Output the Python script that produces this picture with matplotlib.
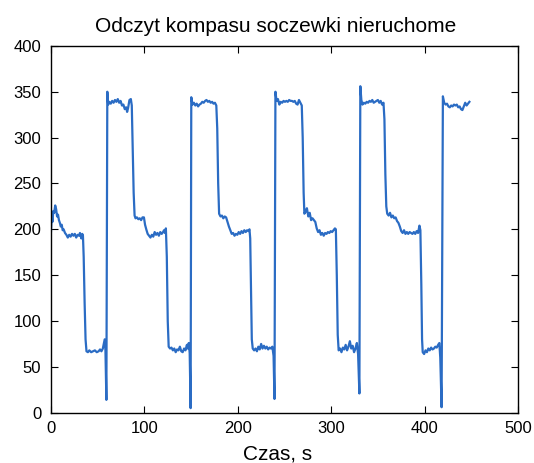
import matplotlib
matplotlib.use("Agg")
import matplotlib.pyplot as plt

# Compass heading readings (degrees) over time (s), lenses stationary
czas = [
    0, 0.8, 1.5, 2.5, 3.5, 4.5, 5.5, 6.5, 7.5, 8.5, 9.5, 10.5, 11.5, 12.5, 13.5, 15, 16.5, 18,
    19.5, 21, 22.5, 24, 25.5, 27, 28.5, 30, 31, 32.5, 33.5, 34.2, 35, 36, 37, 38,
    39.5, 41, 43, 45, 47, 49, 51, 52.5, 54, 55.5, 56.5, 57.5, 58.3, 59.3,
    60.3, 61.2, 62.5, 64, 65.5, 67, 68.5, 70, 71.5, 73, 74.5, 76, 77.5, 79, 80.5, 81.5, 82.5,
    84, 85.5, 86.5, 87.5, 88.5, 89.5,
    90.5, 92, 93.5, 95, 96.5, 98, 99.5, 100.7, 102, 103.5, 105, 106.5, 108, 109.5, 111,
    112.5, 114, 115.5, 117, 118.5, 120, 121, 122, 123, 124, 125, 126,
    127.5, 129, 130.5, 132, 133.5, 135, 136.5, 138, 139.5, 141, 142.5, 144, 145.5, 146.5,
    147.5, 148.5, 149.5,
    150.2, 151.5, 153, 154.5, 156, 157.5, 159, 160.5, 162, 163.5, 165, 166.5, 168, 169.5,
    171, 172.5, 174, 175.5, 177, 178, 179, 180,
    181.5, 183, 184.5, 186, 187.5, 189, 190.5, 192, 193.5, 195, 196.5, 198, 199.5, 201,
    202.5, 204, 205.5, 207, 208.5, 210, 211.5, 212.5, 213.3, 214.2, 215, 216,
    217.5, 219, 220.5, 222, 223.5, 225, 226.5, 228, 229.5, 231, 232.5, 234, 235.5, 237,
    238.3, 239.3,
    240.3, 241.5, 243, 244.5, 246, 247.5, 249, 250.5, 252, 253.5, 255, 256.5, 258, 259.5,
    261, 262.5, 264, 265.5, 267, 268.5, 269.5, 270.5, 271.3,
    272.5, 274, 275.5, 277, 278.5, 280, 281.5, 283, 284.5, 286, 287.5, 289, 290.5, 292,
    293.5, 295, 296.5, 298, 299.5, 301, 302.5, 304, 305, 306, 307, 308,
    309.5, 311, 312.5, 314, 315.5, 317, 318.5, 320, 321.5, 323, 324.5, 326, 327.5, 328.8,
    330.2,
    331.2, 332.3, 333.5, 335, 336.5, 338, 339.5, 341, 342.5, 344, 345.5, 347, 348.5, 350,
    351.5, 353, 354.5, 356, 357, 358, 359, 360,
    361.5, 363, 364.5, 366, 367.5, 369, 370.5, 372, 373.5, 375, 376.5, 378, 379.5, 381,
    382.5, 384, 385.5, 387, 388.5, 390, 391.5, 393, 394.5, 395.5, 396.5, 397.3, 398,
    399.5, 401, 402.5, 404, 405.5, 407, 408.5, 410, 411.5, 413, 414.5, 415.8, 416.8, 418.2,
    419.6, 421, 422.5, 424, 425.5, 427, 428.5, 430, 431.5, 433, 434.5, 436, 437.5, 439,
    440.5, 442, 443.5, 445, 446.5, 448,
]
odczyt = [
    198, 215, 208, 220, 218, 226, 222, 214, 216, 210, 207, 203, 205, 199, 200, 196, 194, 191,
    194, 192, 195, 193, 195, 191, 194, 193, 196, 190, 195, 193, 170, 120, 80, 67,
    66, 68, 66, 67, 68, 66, 67, 69, 67, 70, 75, 80, 68, 14,
    350, 336, 339, 337, 340, 338, 341, 339, 342, 338, 340, 335, 336, 331, 333, 328, 332,
    341, 342, 335, 290, 240, 215,
    212, 213, 211, 212, 210, 213, 213, 205, 200, 195, 193, 191, 194, 192, 197,
    194, 196, 193, 197, 195, 197, 199, 196, 201, 170, 100, 72,
    70, 71, 68, 70, 66, 69, 68, 72, 67, 66, 70, 68, 74, 70,
    76, 65, 5,
    344, 336, 338, 335, 337, 334, 336, 337, 339, 338, 340, 341, 339, 340,
    338, 339, 337, 338, 335, 310, 250, 217,
    214, 215, 212, 214, 213, 208, 203, 199, 195, 196, 193, 195, 194, 197,
    195, 198, 196, 199, 197, 199, 198, 200, 190, 130, 80, 70,
    68, 70, 67, 72, 69, 75, 70, 73, 70, 72, 69, 71, 70, 72,
    62, 15,
    350, 340, 342, 336, 339, 338, 340, 339, 340, 339, 341, 340, 340, 339,
    340, 337, 336, 341, 338, 335, 300, 240, 217,
    219, 223, 214, 218, 210, 212, 210, 208, 201, 197, 199, 194, 196, 193,
    196, 195, 197, 196, 198, 197, 199, 201, 200, 150, 85, 68,
    70, 66, 71, 69, 74, 68, 72, 78, 70, 73, 66, 70, 76, 64,
    21,
    356, 341, 336, 338, 337, 339, 338, 340, 339, 341, 338, 339, 340, 341,
    338, 340, 336, 338, 320, 260, 225, 217,
    215, 218, 213, 215, 212, 213, 209, 207, 203, 198, 196, 199, 195, 197,
    195, 197, 196, 195, 197, 195, 198, 196, 204, 199, 140, 80, 66,
    64, 68, 66, 70, 68, 71, 69, 70, 72, 71, 74, 76, 60, 6,
    345, 338, 336, 337, 334, 333, 335, 334, 336, 335, 336, 333, 334, 331,
    330, 334, 338, 335, 337, 339,
]

plt.rcParams['font.family'] = ['Liberation Sans', 'DejaVu Sans']

fig = plt.figure(figsize=(5.34, 4.63), dpi=100)
ax = fig.add_axes([0.0955, 0.1086, 0.8745, 0.7923])

ax.plot(czas, odczyt, color='#2b6cc4', linewidth=1.6)

ax.set_xlim(0, 500)
ax.set_ylim(0, 400)
ax.set_xticks([0, 100, 200, 300, 400, 500])
ax.set_yticks(range(0, 401, 50))
ax.tick_params(direction='in', top=True, right=True, length=5, width=0.8,
               labelsize=12)
ax.tick_params(axis='x', pad=6)
ax.tick_params(axis='y', pad=7)
for s in ax.spines.values():
    s.set_linewidth(1.0)

ax.set_xlabel('Czas, s', fontsize=15, labelpad=6, x=0.485)
ax.set_title('Odczyt kompasu soczewki nieruchome', fontsize=15, pad=10, x=0.48)

fig.savefig('out.png', dpi=100)
